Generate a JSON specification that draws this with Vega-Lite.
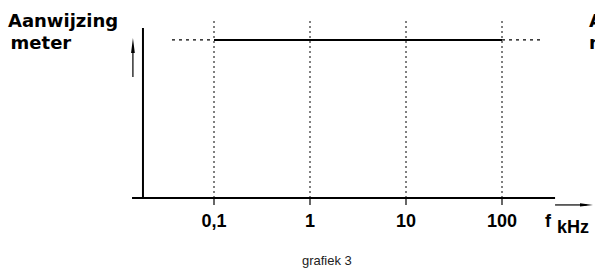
{
  "$schema": "https://vega.github.io/schema/vega-lite/v6.json",
  "width": 480,
  "height": 178,
  "autosize": "none",
  "padding": {"left": 118, "top": 20, "right": 0, "bottom": 76},
  "background": "white",
  "config": {"view": {"stroke": null}},
  "datasets": {
    "axes": [
      {"x": 0.0182, "x2": 0.0182, "y": 0, "y2": 9.55},
      {"x": 0.014, "x2": 357, "y": 0, "y2": 0}
    ],
    "decades": [
      {"f": 0.1, "label": "0,1"},
      {"f": 1, "label": "1"},
      {"f": 10, "label": "10"},
      {"f": 100, "label": "100"}
    ],
    "level": [
      {"from": 0.1, "to": 100, "meter": 8.88, "part": "gemeten"},
      {"from": 0.0365, "to": 0.1, "meter": 8.88, "part": "verlengd"},
      {"from": 100, "to": 249, "meter": 8.88, "part": "verlengd"}
    ],
    "arrows": [
      {"x": 0.0143, "x2": 0.0143, "y": 6.8, "y2": 8.5, "dir": "up"},
      {"x": 357, "x2": 760, "y": -0.39, "y2": -0.39, "dir": "right"}
    ],
    "heads": [
      {"x": 0.0143, "y": 8.57, "dir": "up"},
      {"x": 759, "y": -0.39, "dir": "right"}
    ],
    "titles": [
      {"x": 0.000714, "y": 9.61, "text": "Aanwijzing"},
      {"x": 0.00076, "y": 8.37, "text": "meter"},
      {"x": 805, "y": 9.61, "text": "Aanwijzing"},
      {"x": 805, "y": 8.37, "text": "meter"}
    ]
  },
  "layer": [
    {
      "data": {"name": "decades"},
      "mark": {"type": "rule", "color": "black", "strokeWidth": 1, "strokeDash": [2, 3]},
      "encoding": {
        "x": {"field": "f", "type": "quantitative", "scale": {"type": "log", "domain": [0.01, 1000]}, "axis": null},
        "y": {"datum": 0, "type": "quantitative", "scale": {"domain": [0, 10]}, "axis": null},
        "y2": {"datum": 10}
      }
    },
    {
      "data": {"name": "axes"},
      "mark": {"type": "rule", "color": "black", "strokeWidth": 2},
      "encoding": {
        "x": {"field": "x", "type": "quantitative"},
        "x2": {"field": "x2"},
        "y": {"field": "y", "type": "quantitative"},
        "y2": {"field": "y2"}
      }
    },
    {
      "data": {"name": "decades"},
      "mark": {"type": "rule", "color": "black", "strokeWidth": 1.2},
      "encoding": {
        "x": {"field": "f", "type": "quantitative"},
        "y": {"datum": 0, "type": "quantitative"},
        "y2": {"datum": -0.39}
      }
    },
    {
      "data": {"name": "level"},
      "transform": [{"filter": "datum.part === 'gemeten'"}],
      "mark": {"type": "rule", "color": "black", "strokeWidth": 2},
      "encoding": {
        "x": {"field": "from", "type": "quantitative"},
        "x2": {"field": "to"},
        "y": {"field": "meter", "type": "quantitative"}
      }
    },
    {
      "data": {"name": "level"},
      "transform": [{"filter": "datum.part === 'verlengd'"}],
      "mark": {"type": "rule", "color": "black", "strokeWidth": 1.2, "strokeDash": [3, 4]},
      "encoding": {
        "x": {"field": "from", "type": "quantitative"},
        "x2": {"field": "to"},
        "y": {"field": "meter", "type": "quantitative"}
      }
    },
    {
      "data": {"name": "arrows"},
      "mark": {"type": "rule", "color": "black", "strokeWidth": 1.2},
      "encoding": {
        "x": {"field": "x", "type": "quantitative"},
        "x2": {"field": "x2"},
        "y": {"field": "y", "type": "quantitative"},
        "y2": {"field": "y2"}
      }
    },
    {
      "data": {"name": "heads"},
      "transform": [{"filter": "datum.dir === 'up'"}],
      "mark": {"type": "point", "filled": true, "color": "black", "opacity": 1, "shape": "M0,-1L0.25,1L-0.25,1Z", "size": 225},
      "encoding": {
        "x": {"field": "x", "type": "quantitative"},
        "y": {"field": "y", "type": "quantitative"}
      }
    },
    {
      "data": {"name": "heads"},
      "transform": [{"filter": "datum.dir === 'right'"}],
      "mark": {"type": "point", "filled": true, "color": "black", "opacity": 1, "shape": "M1,0L-1,0.25L-1,-0.25Z", "size": 169},
      "encoding": {
        "x": {"field": "x", "type": "quantitative"},
        "y": {"field": "y", "type": "quantitative"}
      }
    },
    {
      "data": {"name": "decades"},
      "mark": {"type": "text", "font": "Liberation Sans", "fontSize": 18, "fontWeight": "bold", "align": "center", "baseline": "alphabetic", "color": "black"},
      "encoding": {
        "x": {"field": "f", "type": "quantitative"},
        "y": {"datum": -1.63, "type": "quantitative"},
        "text": {"field": "label"}
      }
    },
    {
      "data": {"values": [{"x": 301, "y": -1.63, "text": "f"}]},
      "mark": {"type": "text", "font": "Liberation Sans", "fontSize": 18, "fontWeight": "bold", "align": "center", "baseline": "alphabetic", "color": "black"},
      "encoding": {
        "x": {"field": "x", "type": "quantitative"},
        "y": {"field": "y", "type": "quantitative"},
        "text": {"field": "text"}
      }
    },
    {
      "data": {"values": [{"x": 374, "y": -1.97, "text": "kHz"}]},
      "mark": {"type": "text", "font": "Liberation Sans", "fontSize": 18, "fontWeight": "bold", "align": "left", "baseline": "alphabetic", "color": "black"},
      "encoding": {
        "x": {"field": "x", "type": "quantitative"},
        "y": {"field": "y", "type": "quantitative"},
        "text": {"field": "text"}
      }
    },
    {
      "data": {"name": "titles"},
      "mark": {"type": "text", "font": "DejaVu Sans", "fontSize": 18, "fontWeight": "bold", "align": "left", "baseline": "alphabetic", "color": "black"},
      "encoding": {
        "x": {"field": "x", "type": "quantitative"},
        "y": {"field": "y", "type": "quantitative"},
        "text": {"field": "text"}
      }
    },
    {
      "data": {"values": [{"x": 1.5, "y": -3.76, "text": "grafiek 3"}]},
      "mark": {"type": "text", "font": "Liberation Sans", "fontSize": 13, "align": "center", "baseline": "alphabetic", "color": "#222222"},
      "encoding": {
        "x": {"field": "x", "type": "quantitative"},
        "y": {"field": "y", "type": "quantitative"},
        "text": {"field": "text"}
      }
    }
  ]
}
